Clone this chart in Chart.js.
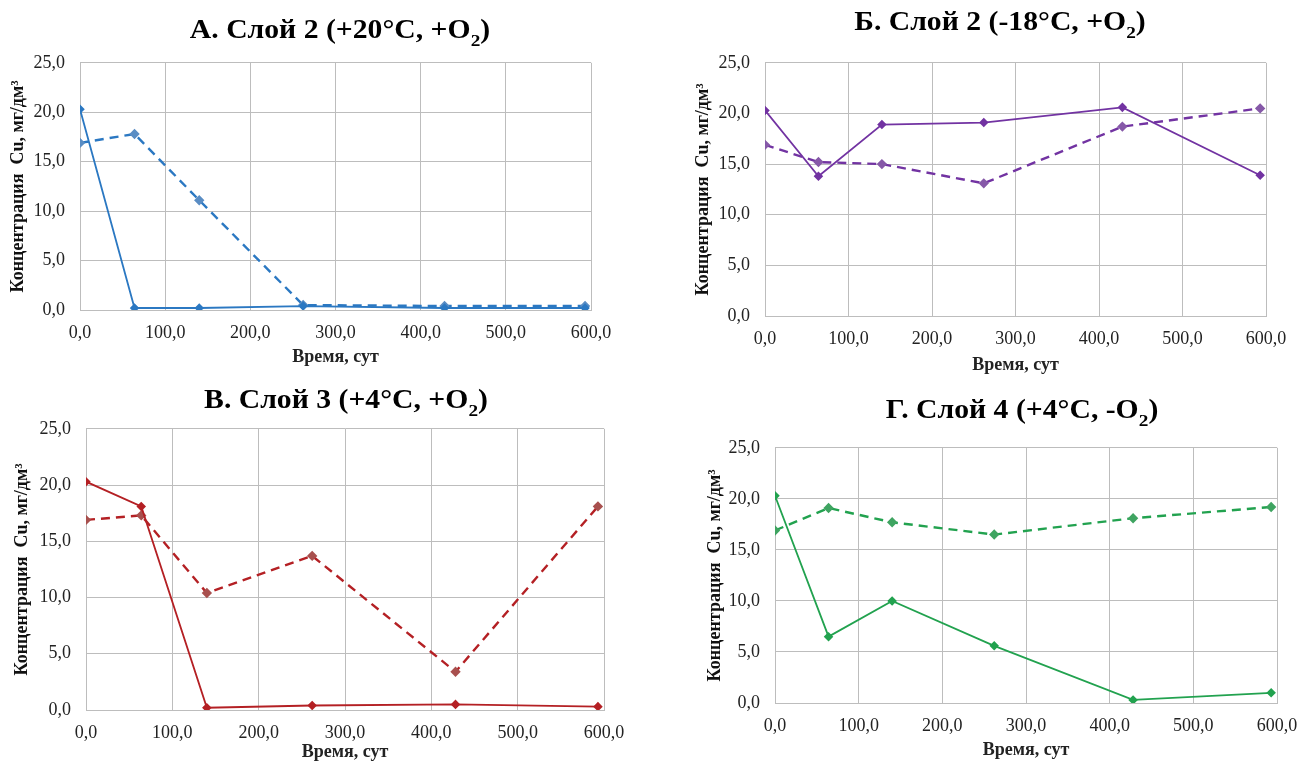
<!DOCTYPE html>
<html>
<head>
<meta charset="utf-8">
<script src="https://cdn.jsdelivr.net/npm/chart.js@4/dist/chart.umd.min.js"></script>
<style>
body { margin: 0; background: #fff; }
#wrap { position: relative; width: 1301px; height: 762px; overflow: hidden; background: #fff; }
#wrap canvas { position: absolute; }
.ttl { position: absolute; font-family: "Liberation Serif", "Times New Roman", serif; font-weight: bold;
  font-size: 27px; white-space: nowrap; transform: translate(-50%, -50%) scaleX(1.1); color: #000; z-index: 2; }
.ttl sub { font-size: 0.65em; vertical-align: -0.5em; line-height: 0; }
</style>
</head>
<body>
<div id="wrap"></div>
<script>
// time points, days
const days = [0, 64, 140, 262, 428, 593];
const xTicks = [0, 100, 200, 300, 400, 500, 600];
const yTicks = [0, 5, 10, 15, 20, 25];

// А. Слой 2 (+20°C, +O2)
const aSolid = [20.3, 0.2, 0.2, 0.4, 0.2, 0.2];
const aDash = [16.9, 17.8, 11.1, 0.5, 0.4, 0.4];
// Б. Слой 2 (-18°C, +O2)
const bSolid = [20.3, 13.8, 18.9, 19.1, 20.6, 13.9];
const bDash = [16.9, 15.2, 15.0, 13.1, 18.7, 20.5];
// В. Слой 3 (+4°C, +O2)
const cSolid = [20.3, 18.1, 0.2, 0.4, 0.5, 0.3];
const cDash = [16.9, 17.3, 10.4, 13.7, 3.4, 18.1];
// Г. Слой 4 (+4°C, -O2)
const dSolid = [20.3, 6.5, 10.0, 5.6, 0.3, 1.0];
const dDash = [16.9, 19.1, 17.7, 16.5, 18.1, 19.2];

const xTitle = 'Время, сут';
const yTitle = 'Концентрация  Cu, мг/дм³';
const FONT = "'Liberation Serif', 'Times New Roman', serif";

const panels = [
  { title: 'А. Слой 2 (+20°C, +O<sub>2</sub>)', tx: 340, ty: 29, solid: aSolid, dash: aDash,
    color: '#2B78C2', dashMark: '#5A8DC4', plot: { l: 80, t: 49, r: 591, b: 310 }, xTitleY: 357, yTitleX: 19 },
  { title: 'Б. Слой 2 (-18°C, +O<sub>2</sub>)', tx: 1000, ty: 21, solid: bSolid, dash: bDash,
    color: '#7233A2', dashMark: '#8659A8', plot: { l: 765, t: 49, r: 1266, b: 316 }, xTitleY: 365, yTitleX: 704 },
  { title: 'В. Слой 3 (+4°C, +O<sub>2</sub>)', tx: 346, ty: 399, solid: cSolid, dash: cDash,
    color: '#B42024', dashMark: '#A8504E', plot: { l: 86, t: 415, r: 604, b: 710 }, xTitleY: 752, yTitleX: 23 },
  { title: 'Г. Слой 4 (+4°C, -O<sub>2</sub>)', tx: 1022, ty: 409, solid: dSolid, dash: dDash,
    color: '#22A24F', dashMark: '#3FA461', plot: { l: 775, t: 434, r: 1277, b: 703 }, xTitleY: 750, yTitleX: 716 }
];

const fmt = v => v.toFixed(1).replace('.', ',');
const wrap = document.getElementById('wrap');

panels.forEach(p => {
  const lh = 18 * 1.2;
  const left = Math.round(p.yTitleX - 4 - lh / 2);
  const top = p.plot.t - 12;
  const right = p.plot.r + 40;
  const bottom = Math.round(p.xTitleY + 4 + lh / 2);
  const cv = document.createElement('canvas');
  cv.width = right - left;
  cv.height = bottom - top;
  cv.style.left = left + 'px';
  cv.style.top = top + 'px';
  cv.style.width = cv.width + 'px';
  cv.style.height = cv.height + 'px';
  wrap.appendChild(cv);

  const t = document.createElement('div');
  t.className = 'ttl';
  t.innerHTML = p.title;
  t.style.left = p.tx + 'px';
  t.style.top = p.ty + 'px';
  wrap.appendChild(t);

  const yW = p.plot.l - left;
  const xH = bottom - p.plot.b;

  new Chart(cv, {
    type: 'line',
    data: {
      datasets: [
        {
          data: days.map((d, k) => ({ x: d, y: p.solid[k] })),
          borderColor: p.color, backgroundColor: p.color,
          borderWidth: 1.8, pointStyle: 'rectRot', pointRadius: 3.5,
          pointBackgroundColor: p.color, pointBorderColor: p.color, tension: 0
        },
        {
          data: days.map((d, k) => ({ x: d, y: p.dash[k] })),
          borderColor: p.color, backgroundColor: p.dashMark,
          borderWidth: 2.4, borderDash: [9, 6], pointStyle: 'rectRot', pointRadius: 3.5,
          pointBackgroundColor: p.dashMark, pointBorderColor: p.dashMark, tension: 0
        }
      ]
    },
    options: {
      responsive: false,
      animation: false,
      layout: { padding: { top: 12, right: 40, left: 0, bottom: 0 } },
      plugins: { legend: { display: false }, tooltip: { enabled: false } },
      scales: {
        x: {
          type: 'linear', min: 0, max: 600,
          afterBuildTicks: s => { s.ticks = xTicks.map(v => ({ value: v })); },
          afterFit: s => { s.height = xH; },
          grid: { color: '#BDBDBD', lineWidth: 1, drawTicks: false },
          border: { color: '#BDBDBD' },
          ticks: { color: '#222', padding: 12, maxRotation: 0, font: { family: FONT, size: 18 }, callback: fmt },
          title: { display: true, text: xTitle, color: '#222', font: { family: FONT, size: 18, weight: 'bold' } }
        },
        y: {
          min: 0, max: 25,
          afterBuildTicks: s => { s.ticks = yTicks.map(v => ({ value: v })); },
          afterFit: s => { s.width = yW; },
          grid: { color: '#BDBDBD', lineWidth: 1, drawTicks: false },
          border: { color: '#BDBDBD' },
          ticks: { color: '#222', padding: 15, font: { family: FONT, size: 18 }, callback: fmt },
          title: { display: true, text: yTitle, color: '#111', font: { family: FONT, size: 18, weight: 'bold' } }
        }
      }
    }
  });
});
</script>
</body>
</html>
